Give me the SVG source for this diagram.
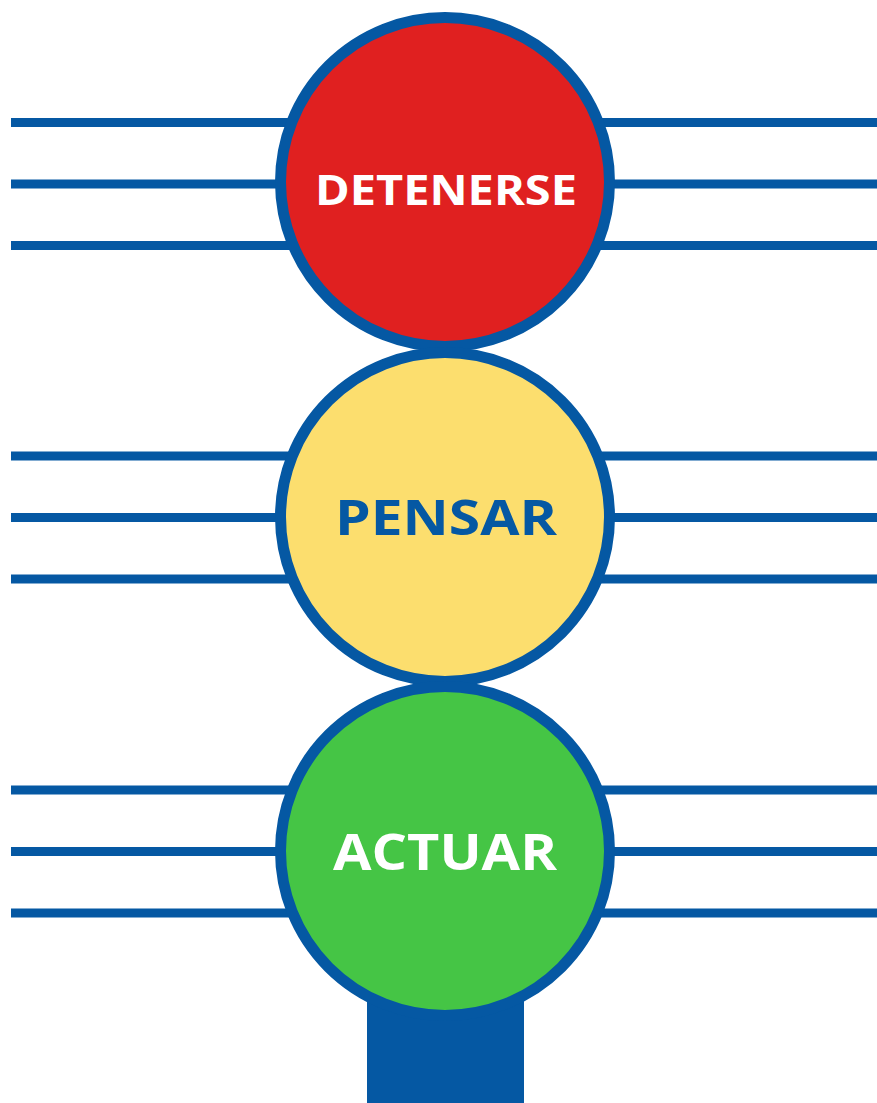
<svg xmlns="http://www.w3.org/2000/svg" width="877" height="1103" viewBox="0 0 877 1103">
  <style>
    .rail { stroke: #0558a3; stroke-width: 9; fill: none; }
    .lamp { stroke: #0558a3; stroke-width: 11; }
    .label { font-family: "Open Sans", "Liberation Sans", sans-serif; font-weight: 700; text-anchor: middle; }
  </style>
  <rect width="877" height="1103" fill="#ffffff"/>

  <!-- horizontal rails behind the lamps -->
  <g id="connectors">
    <line class="rail" x1="11" y1="122.5" x2="877" y2="122.5"/>
    <line class="rail" x1="11" y1="184" x2="877" y2="184"/>
    <line class="rail" x1="11" y1="245.5" x2="877" y2="245.5"/>
    <line class="rail" x1="11" y1="456" x2="877" y2="456"/>
    <line class="rail" x1="11" y1="517.5" x2="877" y2="517.5"/>
    <line class="rail" x1="11" y1="579" x2="877" y2="579"/>
    <line class="rail" x1="11" y1="790" x2="877" y2="790"/>
    <line class="rail" x1="11" y1="851.5" x2="877" y2="851.5"/>
    <line class="rail" x1="11" y1="913" x2="877" y2="913"/>
  </g>

  <!-- post -->
  <g id="post">
    <rect x="367" y="960" width="157" height="143" fill="#0558a3"/>
  </g>

  <g id="stop">
    <circle class="lamp" cx="445" cy="182" r="164.5" fill="#e02020"/>
    <text class="label" x="446" y="205" font-size="42" fill="#ffffff" textLength="262" lengthAdjust="spacingAndGlyphs">DETENERSE</text>
  </g>

  <g id="think">
    <circle class="lamp" cx="445" cy="517" r="164.5" fill="#fcde6e"/>
    <text class="label" x="446" y="535" font-size="48" fill="#0558a3" textLength="222" lengthAdjust="spacingAndGlyphs">PENSAR</text>
  </g>

  <g id="act">
    <circle class="lamp" cx="445" cy="851" r="164.5" fill="#45c545"/>
    <text class="label" x="445" y="870" font-size="51" fill="#ffffff" textLength="224" lengthAdjust="spacingAndGlyphs">ACTUAR</text>
  </g>
</svg>
